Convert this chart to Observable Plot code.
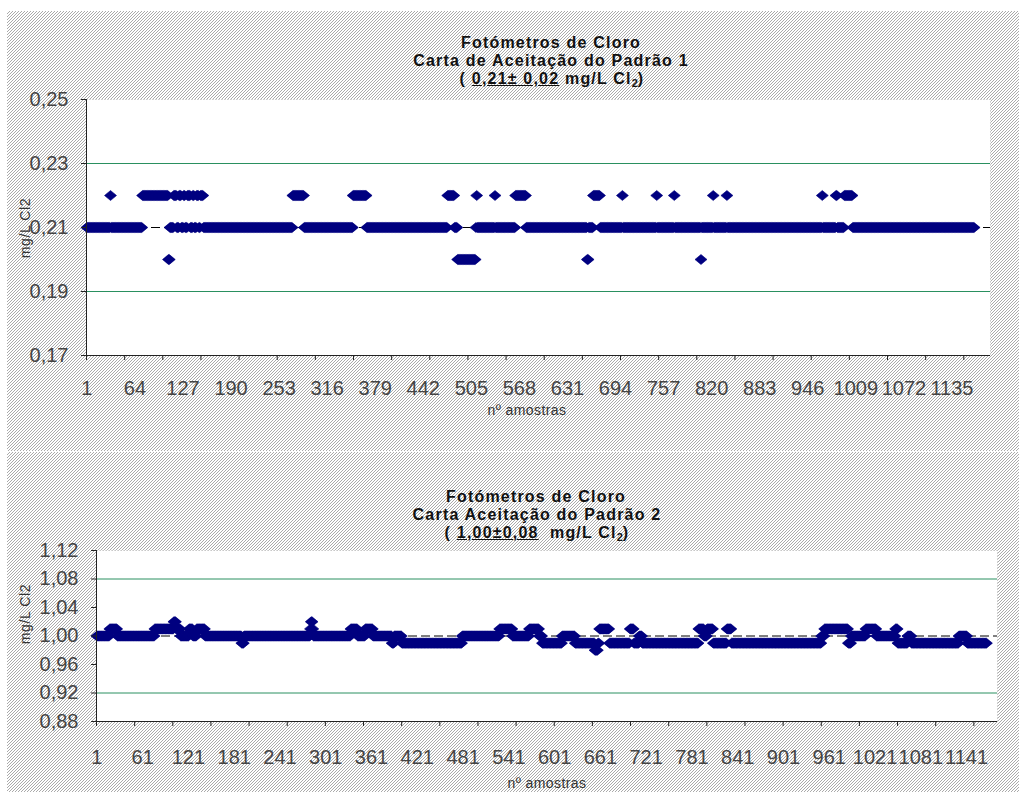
<!DOCTYPE html>
<html>
<head>
<meta charset="utf-8">
<script src="https://cdn.jsdelivr.net/npm/d3@7"></script>
<script src="https://cdn.jsdelivr.net/npm/@observablehq/plot@0.6"></script>
<style>
  body { margin: 0; background: #fff; }
  #page { position: relative; width: 1019px; height: 792px; overflow: hidden;
          font-family: "Liberation Sans", Arial, sans-serif; }
  .hatch { position: absolute;
           background-image: url("data:image/svg+xml,%3Csvg xmlns='http://www.w3.org/2000/svg' width='3' height='3'%3E%3Cpath d='M0 2h1v1H0zM1 1h1v1H1zM2 0h1v1H2z' fill='%23aaaaaa'/%3E%3C/svg%3E"); }
  .chart { position: absolute; left: 0; }
  .t { position: absolute; transform: translateX(-50%); white-space: nowrap;
       font-weight: bold; font-size: 16px; letter-spacing: 1.2px; line-height: 18px; color: #111; }
  .t sub { font-size: 11px; line-height: 0; vertical-align: -3px; letter-spacing: 0; }
  .ytitle { position: absolute; white-space: nowrap; font-size: 14px; color: #333;
            transform: translate(-50%, -50%) rotate(-90deg); letter-spacing: 0.6px; }
  .xtitle { position: absolute; white-space: nowrap; font-size: 14px; color: #333;
            transform: translate(-50%, -50%); letter-spacing: 0.4px; }
</style>
</head>
<body>
<div id="page">
  <div class="hatch" style="left:7px;top:11px;width:1012px;height:440px"></div>
  <div class="hatch" style="left:7px;top:452px;width:1012px;height:340px"></div>
  <div id="chart1" class="chart" style="top:0"></div>
  <div id="chart2" class="chart" style="top:450px"></div>

  <div class="t" style="left:551px;top:34px">Fotómetros de Cloro</div>
  <div class="t" style="left:551px;top:52px">Carta de Aceitação do Padrão 1</div>
  <div class="t" style="left:552px;top:70px">( <u>0,21± 0,02</u> mg/L Cl<sub>2</sub>)</div>
  <div class="ytitle" style="left:25px;top:228px">mg/L Cl2</div>
  <div class="xtitle" style="left:527px;top:410px">nº amostras</div>

  <div class="t" style="left:536px;top:488px">Fotómetros de Cloro</div>
  <div class="t" style="left:537px;top:506px">Carta Aceitação do Padrão 2</div>
  <div class="t" style="left:537px;top:524px">( <u>1,00±0,08</u>&nbsp; mg/L Cl<sub>2</sub>)</div>
  <div class="ytitle" style="left:25px;top:614px">mg/L Cl2</div>
  <div class="xtitle" style="left:547px;top:783px">nº amostras</div>
</div>
<script>
// ---- Padrão 1 (0,21 ± 0,02 mg/L Cl2): readings held from each sample nº in p1RunStart
const p1RunStart = [1, 32, 33, 74, 108, 110, 115, 119, 122, 125, 128, 130, 133, 137, 140, 142, 145, 148, 150, 154,
  271, 286, 350, 368, 474, 483, 487, 511, 512, 513, 536, 537, 563, 577, 657, 659, 665, 674, 703, 704,
  748, 749, 771, 772, 806, 807, 822, 823, 840, 841, 965, 966, 983, 985, 994, 1005];
const p1RunValue = [0.21, 0.22, 0.21, 0.22, 0.20, 0.21, 0.22, 0.21, 0.22, 0.21, 0.22, 0.21, 0.22, 0.21, 0.22, 0.21, 0.22, 0.21, 0.22, 0.21,
  0.22, 0.21, 0.22, 0.21, 0.22, 0.21, 0.20, 0.21, 0.22, 0.21, 0.22, 0.21, 0.22, 0.21, 0.20, 0.21, 0.22, 0.21, 0.22, 0.21,
  0.22, 0.21, 0.22, 0.21, 0.20, 0.21, 0.22, 0.21, 0.22, 0.21, 0.22, 0.21, 0.22, 0.21, 0.22, 0.21];
const p1Samples = 1164;
const p1AxisSamples = 1185;
const p1Target = 0.21;
const p1Limits = [0.19, 0.23];
const p1YTicks = [0.17, 0.19, 0.21, 0.23, 0.25];
const p1XLabels = [1, 64, 127, 190, 253, 316, 379, 442, 505, 568, 631, 694, 757, 820, 883, 946, 1009, 1072, 1135];

// ---- Padrão 2 (1,00 ± 0,08 mg/L Cl2)
const p2RunStart = [1, 18, 28, 77, 102, 105, 111, 122, 127, 132, 143, 191, 194, 281, 282, 284, 285, 334, 343, 353,
  363, 388, 391, 401, 480, 529, 546, 568, 581, 585, 611, 628, 654, 658, 660, 673, 700, 705, 712, 716,
  790, 797, 801, 809, 827, 833, 951, 955, 986, 990, 1009, 1023, 1048, 1051, 1064, 1069, 1131, 1142];
const p2RunValue = [1.00, 1.01, 1.00, 1.01, 1.02, 1.01, 1.00, 1.01, 1.00, 1.01, 1.00, 0.99, 1.00, 1.01, 1.02, 1.01, 1.00, 1.01, 1.00, 1.01,
  1.00, 0.99, 1.00, 0.99, 1.00, 1.01, 1.00, 1.01, 1.00, 0.99, 1.00, 0.99, 0.98, 0.99, 1.01, 0.99, 1.01, 0.99, 1.00, 0.99,
  1.01, 1.00, 1.01, 0.99, 1.01, 0.99, 1.00, 1.01, 0.99, 1.00, 1.01, 1.00, 1.01, 0.99, 1.00, 0.99, 1.00, 0.99];
const p2Samples = 1167;
const p2AxisSamples = 1181;
const p2Target = 1.00;
const p2Limits = [0.92, 1.08];
const p2YTicks = [0.88, 0.92, 0.96, 1.00, 1.04, 1.08, 1.12];
const p2XLabels = [1, 61, 121, 181, 241, 301, 361, 421, 481, 541, 601, 661, 721, 781, 841, 901, 961, 1021, 1081, 1141];

// one row per sample, from the run table
function expandRuns(starts, values, total) {
  const rows = [];
  starts.forEach((s, k) => {
    const end = k + 1 < starts.length ? starts[k + 1] - 1 : total;
    for (let n = s; n <= end; n++) rows.push({n, v: values[k]});
  });
  return rows;
}

// Excel-style diamond marker, a little wider than tall
const diamond = {
  draw(ctx) {
    ctx.moveTo(0, -5); ctx.lineTo(6, 0); ctx.lineTo(0, 5); ctx.lineTo(-6, 0); ctx.closePath();
  }
};
const comma = d => d.toFixed(2).replace(".", ",");

function controlChart({rows, axisSamples, yTicks, target, limits, xLabels, height,
                       marginTop, marginBottom, marginLeft, marginRight, labelPad}) {
  const yMin = yTicks[0], yMax = yTicks[yTicks.length - 1];
  const tickMarks = d3.range(0.5, axisSamples, 50);
  return Plot.plot({
    width: 1019, height, marginTop, marginBottom, marginLeft, marginRight,
    style: {background: "transparent", fontFamily: "'Liberation Sans', Arial, sans-serif",
            fontSize: "20px", color: "#444", overflow: "visible"},
    x: {domain: [0.5, axisSamples + 0.5]},
    y: {domain: [yMin, yMax]},
    marks: [
      Plot.frame({fill: "white", stroke: "#b8b8b8", strokeDasharray: "1,2"}),
      Plot.ruleY(limits, {stroke: "#2a9060", strokeWidth: 1}),
      Plot.ruleY([target], {stroke: "#000", strokeDasharray: "9,4"}),
      Plot.dot(rows, {x: "n", y: "v", symbol: diamond, r: 5, fill: "#000080", stroke: "#000080", strokeWidth: 0.6}),
      Plot.ruleX([0.5], {stroke: "#222"}),
      Plot.ruleY([yMin], {stroke: "#222"}),
      Plot.axisY({ticks: yTicks, tickFormat: comma, tickSize: 5, tickPadding: 13, label: null, stroke: "#222"}),
      Plot.axisX({ticks: tickMarks, tickFormat: () => "", tickSize: 5, label: null, stroke: "#222"}),
      Plot.axisX({ticks: xLabels, tickFormat: d => String(d), tickSize: 0, tickPadding: labelPad, label: null})
    ]
  });
}

document.getElementById("chart1").append(controlChart({
  rows: expandRuns(p1RunStart, p1RunValue, p1Samples),
  axisSamples: p1AxisSamples, yTicks: p1YTicks, target: p1Target, limits: p1Limits, xLabels: p1XLabels,
  height: 450, marginTop: 99, marginBottom: 95, marginLeft: 86, marginRight: 29, labelPad: 25
}));

document.getElementById("chart2").append(controlChart({
  rows: expandRuns(p2RunStart, p2RunValue, p2Samples),
  axisSamples: p2AxisSamples, yTicks: p2YTicks, target: p2Target, limits: p2Limits, xLabels: p2XLabels,
  height: 342, marginTop: 100, marginBottom: 71, marginLeft: 96, marginRight: 22, labelPad: 28
}));
</script>
</body>
</html>
